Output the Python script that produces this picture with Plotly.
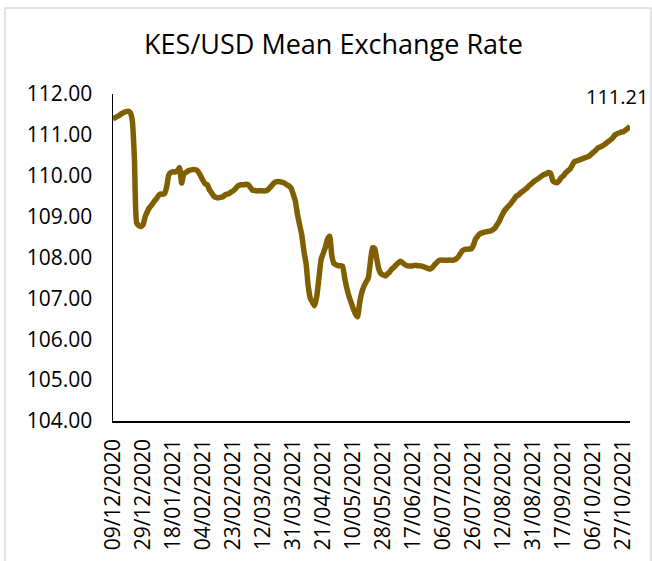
import plotly.graph_objects as go

tick_labels = ["09/12/2020", "29/12/2020", "18/01/2021", "04/02/2021", "23/02/2021",
               "12/03/2021", "31/03/2021", "21/04/2021", "10/05/2021", "28/05/2021",
               "17/06/2021", "06/07/2021", "26/07/2021", "12/08/2021", "31/08/2021",
               "17/09/2021", "06/10/2021", "27/10/2021"]
points_per_label = 14

rates = [
    111.39, 111.42, 111.45, 111.48, 111.52, 111.55, 111.57, 111.58, 111.55, 111.35,
    110.40, 108.85, 108.78, 108.76, 108.80, 109.00, 109.12, 109.22, 109.28, 109.36,
    109.42, 109.50, 109.55, 109.55, 109.56, 109.72, 110.02, 110.08, 110.10, 110.09,
    110.12, 110.20, 109.82, 110.05, 110.08, 110.12, 110.14, 110.15, 110.15, 110.14,
    110.08, 109.98, 109.88, 109.80, 109.78, 109.65, 109.58, 109.50, 109.47, 109.46,
    109.47, 109.48, 109.52, 109.55, 109.56, 109.60, 109.63, 109.68, 109.74, 109.77,
    109.78, 109.78, 109.79, 109.78, 109.72, 109.65, 109.64, 109.63, 109.63, 109.63,
    109.63, 109.63, 109.65, 109.70, 109.76, 109.82, 109.85, 109.86, 109.85, 109.84,
    109.82, 109.78, 109.75, 109.70, 109.55, 109.38, 109.05, 108.80, 108.55, 108.15,
    107.85, 107.30, 107.00, 106.90, 106.82, 107.05, 107.50, 107.95, 108.10, 108.25,
    108.45, 108.52, 108.05, 107.85, 107.82, 107.80, 107.80, 107.79, 107.50, 107.25,
    107.05, 106.90, 106.75, 106.62, 106.55, 106.90, 107.15, 107.30, 107.40, 107.50,
    107.90, 108.24, 108.22, 107.95, 107.70, 107.60, 107.57, 107.55, 107.60, 107.65,
    107.72, 107.76, 107.82, 107.87, 107.91, 107.87, 107.83, 107.80, 107.79, 107.79,
    107.80, 107.81, 107.80, 107.80, 107.79, 107.77, 107.75, 107.73, 107.72, 107.76,
    107.83, 107.88, 107.93, 107.94, 107.93, 107.93, 107.93, 107.94, 107.93, 107.94,
    107.97, 108.02, 108.10, 108.17, 108.20, 108.20, 108.21, 108.21, 108.30, 108.45,
    108.52, 108.58, 108.60, 108.62, 108.63, 108.64, 108.65, 108.68, 108.72, 108.80,
    108.88, 109.00, 109.10, 109.18, 109.24, 109.29, 109.36, 109.43, 109.50, 109.53,
    109.58, 109.62, 109.66, 109.70, 109.76, 109.80, 109.85, 109.89, 109.92, 109.96,
    110.00, 110.03, 110.05, 110.08, 110.06, 109.88, 109.84, 109.83, 109.88, 109.96,
    110.00, 110.07, 110.12, 110.16, 110.25, 110.34, 110.36, 110.38, 110.40, 110.42,
    110.44, 110.46, 110.48, 110.53, 110.58, 110.62, 110.68, 110.70, 110.73, 110.76,
    110.80, 110.84, 110.88, 110.93, 111.00, 111.03, 111.05, 111.07, 111.08, 111.12,
    111.16, 111.21,
]

y_ticks = [104, 105, 106, 107, 108, 109, 110, 111, 112]

x = list(range(len(rates)))
tickvals = [i * points_per_label for i in range(len(tick_labels))]

FONT = "Open Sans"
W, H = 652, 561
L, R, T, B = 113, 22, 94, 140
PW, PH = W - L - R, H - T - B

fig = go.Figure()
fig.add_trace(go.Scatter(x=x, y=rates, mode="lines",
                         line=dict(color="#7f5f00", width=5.5, shape="spline", smoothing=0.5),
                         hoverinfo="skip"))

fig.add_annotation(x=x[-1], y=rates[-1], text=f"{rates[-1]:.2f}", showarrow=False,
                   xanchor="center", yanchor="middle", yshift=30, xshift=-13,
                   font=dict(family=FONT, size=20, color="#000000"))

fig.update_layout(
    width=W, height=H,
    margin=dict(l=L, r=R, t=T, b=B),
    paper_bgcolor="white", plot_bgcolor="white",
    showlegend=False,
    title=dict(text="KES/USD Mean Exchange Rate", x=333.5 / W, xanchor="center",
               y=1 - 45 / H, yanchor="middle",
               font=dict(family=FONT, size=27, color="#000000")),
    xaxis=dict(range=[0, len(rates) - 1], tickmode="array", tickvals=tickvals,
               ticktext=tick_labels, tickangle=-90, showgrid=False, zeroline=False,
               showline=True, linecolor="#000000", linewidth=1.5, ticks="outside",
               ticklen=8, tickcolor="white", automargin=False,
               tickfont=dict(family=FONT, size=21, color="#000000")),
    yaxis=dict(range=[104, 112], tickmode="array", tickvals=y_ticks,
               ticktext=[f"{v:.2f}" for v in y_ticks], showgrid=False, zeroline=False,
               showline=True, linecolor="#000000", linewidth=1.5, ticks="outside",
               ticklen=15, tickcolor="white", automargin=False,
               tickfont=dict(family=FONT, size=21, color="#000000")),
    shapes=[dict(type="rect", xref="paper", yref="paper",
                 x0=(5 - L) / PW, x1=(651 - L) / PW,
                 y0=-(B + 20) / PH, y1=(H - B - 8) / PH,
                 line=dict(color="#d9d9d9", width=1.5), fillcolor="rgba(0,0,0,0)",
                 layer="below")],
)

fig.write_html("out.html",
               config={"displayModeBar": False, "staticPlot": True},
               post_script="document.body.style.margin='0';"
                           "document.body.style.overflow='hidden';")
